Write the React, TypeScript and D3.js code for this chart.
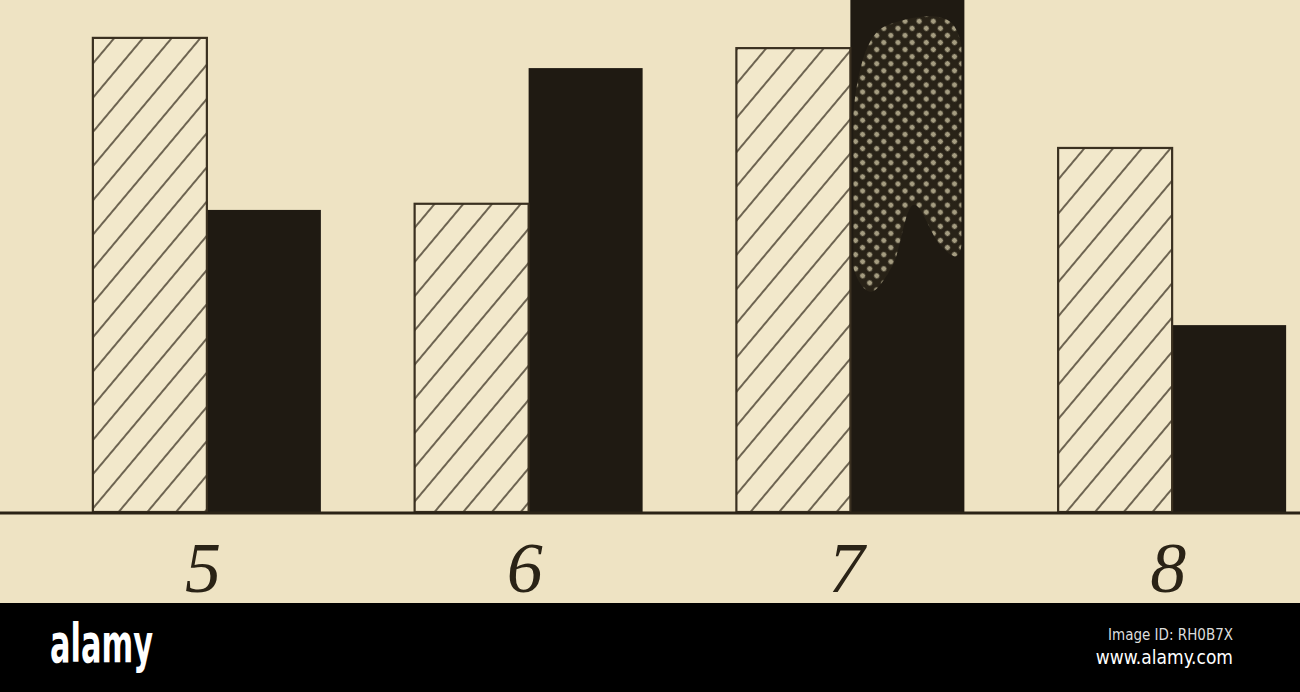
import { useEffect, useRef } from 'react';
import * as d3 from 'd3';

// groups along the x axis and the two series (hatched / solid)
const groups = ['5', '6', '7', '8'];
const series = ['hatched', 'solid'];
const hatchedValues = [92.6, 60.2, 90.6, 71.1];
const solidValues = [59.0, 86.7, 104.0, 36.5];

// rough outline of the dotted patch inside the tall solid bar of group 7
// [fraction across bar, value]
const stipplePatch: Array<[number, number]> = [
  [0.0, 80], [0.15, 92], [0.3, 95], [0.9, 95.5], [0.95, 50],
  [0.8, 52], [0.55, 60], [0.35, 48], [0.15, 43], [0.0, 47],
];

export default function App() {
  const svgRef = useRef<SVGSVGElement>(null);

  useEffect(() => {
    document.body.style.margin = '0';
    if (!svgRef.current) return;
    const width = 1300;
    const height = 692;
    const baseY = 512;
    const stripTop = 603;

    const root = d3.select(svgRef.current);
    root.selectAll('*').remove();
    root.attr('width', width).attr('height', height);

    const bg = '#eee3c3';
    const ink = '#3a3020';
    const dark = '#1f1a12';

    const defs = root.append('defs');
    const hatch = defs.append('pattern')
      .attr('id', 'hatch')
      .attr('patternUnits', 'userSpaceOnUse')
      .attr('width', 22)
      .attr('height', 22)
      .attr('patternTransform', 'rotate(40)');
    hatch.append('rect').attr('width', 22).attr('height', 22).attr('fill', '#f2e8cb');
    hatch.append('line')
      .attr('x1', 2).attr('y1', 0).attr('x2', 2).attr('y2', 22)
      .attr('stroke', ink).attr('stroke-width', 1.8).attr('stroke-opacity', 0.8);

    const dots = defs.append('pattern')
      .attr('id', 'dots')
      .attr('patternUnits', 'userSpaceOnUse')
      .attr('width', 10)
      .attr('height', 10)
      .attr('patternTransform', 'rotate(45)');
    dots.append('rect').attr('width', 10).attr('height', 10).attr('fill', '#2a2418');
    dots.append('circle').attr('cx', 5).attr('cy', 5).attr('r', 2.6).attr('fill', '#bdb495');

    root.append('rect').attr('width', width).attr('height', stripTop).attr('fill', bg);

    const x = d3.scaleBand<string>().domain(groups).range([50, 1337]).padding(0);
    const inner = d3.scaleBand<string>().domain(series).range([-118, 110]).padding(0);
    const y = d3.scaleLinear().domain([0, 100]).range([baseY, 0]);

    const g = root.append('g');

    groups.forEach((grp, i) => {
      const cx = x(grp)! + x.bandwidth() / 2;
      // solid bar
      const sx = cx + inner('solid')!;
      g.append('rect')
        .attr('x', sx)
        .attr('y', y(solidValues[i]))
        .attr('width', inner.bandwidth())
        .attr('height', baseY - y(solidValues[i]))
        .attr('fill', dark);

      if (grp === '7') {
        defs.append('clipPath').attr('id', 'clip7')
          .append('rect')
          .attr('x', sx + 3)
          .attr('y', y(solidValues[i]))
          .attr('width', inner.bandwidth() - 6)
          .attr('height', baseY - y(solidValues[i]));
        const pts = stipplePatch.map(([f, v]) => [sx + 4 + f * (inner.bandwidth() - 6), y(v)] as [number, number]);
        g.append('path')
          .attr('d', d3.line().curve(d3.curveCatmullRomClosed)(pts)!)
          .attr('clip-path', 'url(#clip7)')
          .attr('fill', 'url(#dots)')
          .attr('opacity', 0.85);
      }

      // hatched bar
      const hx = cx + inner('hatched')!;
      g.append('rect')
        .attr('x', hx)
        .attr('y', y(hatchedValues[i]))
        .attr('width', inner.bandwidth())
        .attr('height', baseY - y(hatchedValues[i]))
        .attr('fill', 'url(#hatch)')
        .attr('stroke', ink)
        .attr('stroke-width', 2.2);
    });

    // baseline
    root.append('line')
      .attr('x1', 0).attr('x2', width)
      .attr('y1', baseY + 1).attr('y2', baseY + 1)
      .attr('stroke', '#2a2316').attr('stroke-width', 3);

    // group labels
    root.append('g')
      .selectAll('text')
      .data(groups)
      .join('text')
      .attr('x', d => x(d)! + x.bandwidth() / 2 - 8)
      .attr('y', 592)
      .attr('text-anchor', 'middle')
      .attr('font-family', '"Liberation Serif", "DejaVu Serif", serif')
      .attr('font-style', 'italic')
      .attr('font-size', 72)
      .attr('fill', '#2a2316')
      .text(d => d);

    // bottom strip
    root.append('rect').attr('y', stripTop).attr('width', width).attr('height', height - stripTop).attr('fill', '#000');
    root.append('text')
      .attr('x', 50).attr('y', 662)
      .attr('font-family', '"DejaVu Sans Condensed", "DejaVu Sans", sans-serif')
      .attr('font-weight', 'bold')
      .attr('font-size', 54)
      .attr('textLength', 103)
      .attr('lengthAdjust', 'spacingAndGlyphs')
      .attr('fill', '#fff')
      .text('alamy');
    root.append('text')
      .attr('x', 1233).attr('y', 640)
      .attr('text-anchor', 'end')
      .attr('font-family', '"DejaVu Sans Condensed", "DejaVu Sans", sans-serif')
      .attr('font-size', 15)
      .attr('fill', '#ddd')
      .text('Image ID: RH0B7X');
    root.append('text')
      .attr('x', 1233).attr('y', 664)
      .attr('text-anchor', 'end')
      .attr('font-family', '"DejaVu Sans Condensed", "DejaVu Sans", sans-serif')
      .attr('font-size', 19)
      .attr('fill', '#fff')
      .text('www.alamy.com');
  }, []);

  return <svg ref={svgRef} style={{ display: 'block' }}></svg>;
}
